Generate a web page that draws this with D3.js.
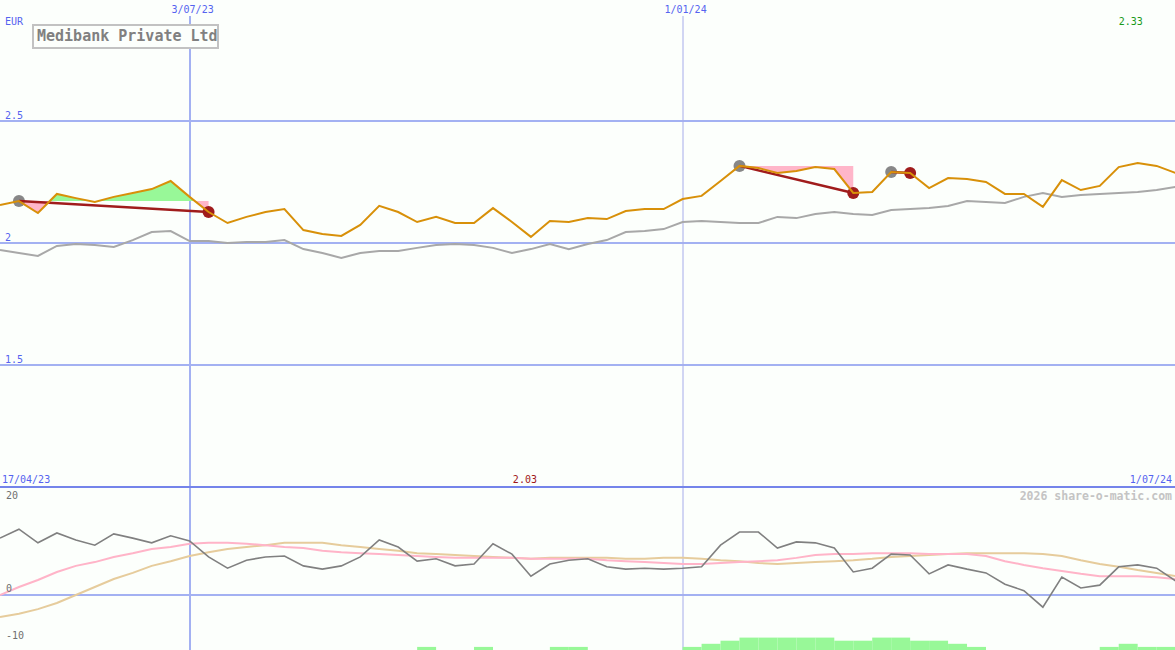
<!DOCTYPE html>
<html><head><meta charset="utf-8">
<script src="https://cdn.jsdelivr.net/npm/d3@7"></script>
<style>html,body{margin:0;padding:0;background:#fcfffc;overflow:hidden}</style>
</head><body><svg id="c" width="1175" height="650"></svg>
<script>
// ---------- data ----------
const title = "Medibank Private Ltd";
const currency = "EUR";
const startDate = new Date(2023, 3, 24);
const endDate = new Date(2024, 6, 1);
const weeks = d3.timeMonday.range(startDate, d3.timeDay.offset(endDate, 1));

const price = [2.156,2.172,2.123,2.201,2.184,2.168,2.189,2.205,2.221,2.254,
  2.189,2.127,2.082,2.107,2.127,2.139,2.053,2.037,2.029,2.074,
  2.152,2.127,2.086,2.107,2.082,2.082,2.143,2.086,2.025,2.090,
  2.086,2.102,2.098,2.131,2.139,2.139,2.180,2.193,2.254,2.316,
  2.307,2.287,2.295,2.311,2.303,2.205,2.209,2.291,2.287,2.225,
  2.266,2.262,2.250,2.201,2.201,2.148,2.258,2.217,2.234,2.311,
  2.328,2.316,2.287];

const benchmark = [1.971,1.959,1.947,1.988,1.996,1.992,1.984,2.012,2.045,2.049,
  2.008,2.008,2.000,2.004,2.004,2.012,1.975,1.959,1.939,1.959,
  1.967,1.967,1.980,1.992,1.996,1.992,1.980,1.959,1.975,1.996,
  1.975,1.996,2.012,2.045,2.049,2.057,2.086,2.090,2.086,2.082,
  2.082,2.107,2.102,2.119,2.127,2.119,2.115,2.135,2.139,2.143,
  2.152,2.172,2.168,2.164,2.189,2.205,2.189,2.197,2.201,2.205,
  2.209,2.217,2.230];

const momentum = [12.1,14.0,11.1,13.2,11.7,10.6,13.0,12.1,11.1,12.6,
  11.5,8.1,5.7,7.4,8.1,8.3,6.2,5.5,6.2,8.1,
  11.7,10.2,7.2,7.7,6.2,6.6,10.9,8.7,4.0,6.6,
  7.4,7.7,6.0,5.5,5.7,5.5,5.7,6.0,10.6,13.4,
  13.4,10.0,11.3,11.1,10.0,4.9,5.7,8.7,8.5,4.5,
  6.4,5.5,4.7,2.3,0.9,-2.6,3.8,1.5,2.1,6.0,
  6.4,5.7,3.0];

const fastAvg = [0,1.7,3.2,4.9,6.2,7.0,8.1,8.9,9.8,10.2,
  10.9,11.1,11.1,10.9,10.6,10.2,10.0,9.4,9.1,8.9,
  8.7,8.5,8.3,8.1,7.9,7.9,7.9,7.9,7.7,7.7,
  7.7,7.7,7.4,7.2,7.0,6.8,6.6,6.6,6.8,7.0,
  7.2,7.4,7.9,8.5,8.7,8.7,8.9,8.9,8.9,8.7,
  8.7,8.7,8.3,7.2,6.4,5.7,5.1,4.5,4.0,4.0,
  4.0,3.8,3.4];

const slowAvg = [-4.7,-4.0,-3.0,-1.7,0,1.7,3.4,4.7,6.2,7.2,
  8.3,9.1,9.8,10.2,10.6,11.1,11.1,11.1,10.6,10.2,
  9.8,9.4,8.9,8.7,8.5,8.3,8.1,7.9,7.7,7.9,
  7.9,7.9,7.9,7.7,7.7,7.9,7.9,7.7,7.4,7.2,
  6.8,6.6,6.8,7.0,7.2,7.4,7.7,8.1,8.3,8.5,
  8.7,8.9,8.9,8.9,8.9,8.7,8.3,7.4,6.6,6.0,
  5.3,4.7,4.0];

const histogram = [0,0,0,0,0,0,0,0,0,0,
  0,0,0,0,0,0,0,0,0,0,
  0,0,1,0,0,1,0,0,0,1,
  1,0,0,0,0,0,1,2,3,4,
  4,4,4,4,3,3,4,4,3,3,
  2,1,0,0,0,0,0,0,1,2,
  1,1,0];

const priceTicks = [2.5, 2, 1.5];
const lowerTicks = [20, 0, -10];
const markerDates = [new Date(2023, 6, 3), new Date(2024, 0, 1)];
const markerLabels = ["3/07/23", "1/01/24"];
const rangeLabels = ["17/04/23", "1/07/24"];
const trades = [{entry: 1, exit: 11}, {entry: 39, exit: 45}, {entry: 47, exit: 48}];
const maxLabel = "2.33", minLabel = "2.03";
const credit = "2026 share-o-matic.com";

// ---------- scales ----------
const W = 1175, H = 650;
const svg = d3.select("#c");
svg.append("rect").attr("width", W).attr("height", H).attr("fill", "#fcfffc");
const x = d3.scaleTime().domain([startDate, endDate]).range([0, 1175.6]);
const yTop = d3.scaleLinear().domain([1, 3]).range([487, -1]);
const yBot = d3.scaleLinear().domain([0, 20]).range([595, 501]);
const yBar = d3.scaleLinear().domain([0, 4]).range([650, 637.6]);
const font = "'DejaVu Sans Mono', 'Liberation Mono', monospace";
const grid = "#a3b1f2";

// ---------- grid ----------
svg.selectAll(".hg").data(priceTicks).enter().append("line")
  .attr("x1", 0).attr("x2", W).attr("y1", d => yTop(d)).attr("y2", d => yTop(d))
  .attr("stroke", grid).attr("stroke-width", 2);
svg.append("line").attr("x1", 0).attr("x2", W).attr("y1", yBot(0)).attr("y2", yBot(0))
  .attr("stroke", grid).attr("stroke-width", 2);
svg.selectAll(".vg").data(markerDates).enter().append("line")
  .attr("x1", d => Math.round(x(d))).attr("x2", d => Math.round(x(d)))
  .attr("y1", 16).attr("y2", H)
  .attr("stroke", (d, i) => i === 0 ? grid : "#a6acea")
  .attr("stroke-width", (d, i) => i === 0 ? 2 : 1);
svg.append("line").attr("x1", 0).attr("x2", W).attr("y1", 487).attr("y2", 487)
  .attr("stroke", "#7484ea").attr("stroke-width", 2);

// ---------- trade fills ----------
const defs = svg.append("defs");
trades.forEach((t, k) => {
  const lvl = price[t.entry];
  const x0 = x(weeks[t.entry]), x1 = x(weeks[t.exit]);
  const idx = d3.range(t.entry, t.exit + 1);
  const area = d3.area().x(i => x(weeks[i])).y0(yTop(lvl)).y1(i => yTop(price[i]));
  defs.append("clipPath").attr("id", "up" + k).append("rect")
    .attr("x", x0).attr("width", x1 - x0).attr("y", 0).attr("height", yTop(lvl));
  defs.append("clipPath").attr("id", "dn" + k).append("rect")
    .attr("x", x0).attr("width", x1 - x0 + 1).attr("y", yTop(lvl)).attr("height", 487 - yTop(lvl));
  svg.append("path").datum(idx).attr("d", area).attr("fill", "#98f898").attr("clip-path", `url(#up${k})`);
  svg.append("path").datum(idx).attr("d", area).attr("fill", "#ffb6c9").attr("clip-path", `url(#dn${k})`);
});

// ---------- circles ----------
trades.forEach(t => {
  svg.append("circle").attr("cx", x(weeks[t.entry])).attr("cy", yTop(price[t.entry])).attr("r", 6).attr("fill", "#878787");
  svg.append("circle").attr("cx", x(weeks[t.exit])).attr("cy", yTop(price[t.exit])).attr("r", 6).attr("fill", "#a01c1c");
});

// ---------- top lines ----------
const lineTop = arr => d3.line().x((d, i) => x(weeks[i])).y(d => yTop(d))(arr);
svg.append("path").attr("d", lineTop(benchmark)).attr("fill", "none").attr("stroke", "#a8a8a8").attr("stroke-width", 2);
trades.forEach(t => {
  svg.append("line")
    .attr("x1", x(weeks[t.entry])).attr("y1", yTop(price[t.entry]))
    .attr("x2", x(weeks[t.exit])).attr("y2", yTop(price[t.exit]))
    .attr("stroke", "#a01c1c").attr("stroke-width", 2.5);
});
svg.append("path").attr("d", lineTop(price)).attr("fill", "none").attr("stroke", "#d89009").attr("stroke-width", 2);

// ---------- bottom panel ----------
const xs = weeks.map(d => x(d));
svg.selectAll(".bar").data(histogram).enter().append("rect")
  .attr("x", (d, i) => xs[i]).attr("width", (d, i) => (xs[i + 1] || W) - xs[i])
  .attr("y", d => yBar(d)).attr("height", d => yBar(0) - yBar(d))
  .attr("fill", "#98f898");
const lineBot = arr => d3.line().x((d, i) => xs[i]).y(d => yBot(d))(arr);
svg.append("path").attr("d", lineBot(slowAvg)).attr("fill", "none").attr("stroke", "#e6cc9c").attr("stroke-width", 2);
svg.append("path").attr("d", lineBot(fastAvg)).attr("fill", "none").attr("stroke", "#ffb4c8").attr("stroke-width", 2);
svg.append("path").attr("d", lineBot(momentum)).attr("fill", "none").attr("stroke", "#808080").attr("stroke-width", 1.6);

// ---------- text ----------
const txt = (s, xx, yy, color, anchor, size, weight) => svg.append("text")
  .attr("x", xx).attr("y", yy).attr("fill", color).attr("text-anchor", anchor || "start")
  .attr("font-family", font).attr("font-size", size || 10).attr("font-weight", weight || "normal").text(s);

txt(currency, 5, 25, "#5563f0");
priceTicks.forEach(v => txt(String(v), 5, yTop(v) - 2, "#5563f0"));
markerDates.forEach((d, i) => txt(markerLabels[i], x(d) + 3, 13, "#5563f0", "middle"));
txt(rangeLabels[0], 2, 483, "#5563f0");
txt(rangeLabels[1], 1172, 483, "#5563f0", "end");
const iMax = d3.maxIndex(price), iMin = d3.minIndex(price);
txt(maxLabel, x(weeks[iMax]) - 7, 25, "#1a9a1a", "middle");
txt(minLabel, x(weeks[iMin]) - 6, 483, "#a01818", "middle");
lowerTicks.forEach(v => txt(String(v), 6, Math.min(Math.max(yBot(v) - 3, 499), 645), "#707070"));
txt(credit, 1172, 500, "#c4c4c4", "end", 11.5, "bold");

// title box
svg.append("rect").attr("x", 33).attr("y", 25).attr("width", 185).attr("height", 23)
  .attr("fill", "#fcfffc").attr("stroke", "#c2c2c2").attr("stroke-width", 2);
txt(title, 37, 41, "#808080", "start", 15, "bold");
</script></body></html>
